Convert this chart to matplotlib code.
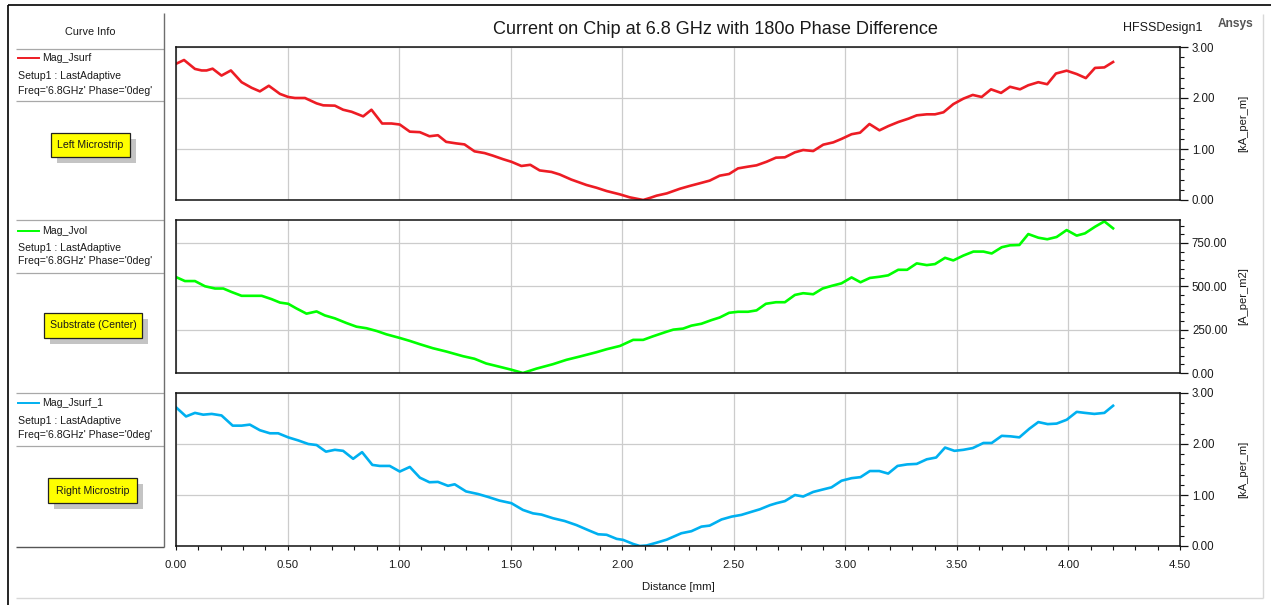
import matplotlib
matplotlib.use('Agg')
import matplotlib.pyplot as plt
from matplotlib.ticker import MultipleLocator, FormatStrFormatter
from matplotlib.patches import Rectangle

plt.rcParams['font.family'] = ['Liberation Sans', 'DejaVu Sans']

# ---------------- data ----------------
x_jsurf = [0, 0.036, 0.085, 0.115, 0.137, 0.164, 0.204, 0.246, 0.294, 0.339, 0.376, 0.416, 0.466,
           0.503, 0.533, 0.578, 0.63, 0.66, 0.712, 0.749, 0.787, 0.839, 0.876, 0.924, 0.966, 1.003,
           1.048, 1.093, 1.136, 1.174, 1.211, 1.256, 1.293, 1.338, 1.383, 1.42, 1.466, 1.503, 1.548,
           1.588, 1.63, 1.683, 1.72, 1.772, 1.84, 1.885, 1.93, 1.99, 2.034, 2.064, 2.094, 2.124, 2.154,
           2.2, 2.258, 2.302, 2.347, 2.392, 2.437, 2.479, 2.519, 2.564, 2.602, 2.647, 2.689, 2.729,
           2.774, 2.811, 2.856, 2.901, 2.946, 2.984, 3.028, 3.066, 3.108, 3.153, 3.193, 3.238, 3.283,
           3.32, 3.365, 3.402, 3.44, 3.484, 3.529, 3.571, 3.611, 3.653, 3.698, 3.738, 3.783, 3.82,
           3.865, 3.905, 3.944, 3.992, 4.037, 4.078, 4.119, 4.161, 4.2]
mag_jsurf = [2.67, 2.745, 2.57, 2.54, 2.54, 2.575, 2.44, 2.54, 2.31, 2.20, 2.13, 2.24, 2.08, 2.02, 2.0,
             2.0, 1.895, 1.856, 1.85, 1.77, 1.73, 1.64, 1.77, 1.50, 1.50, 1.48, 1.34, 1.33, 1.25, 1.27,
             1.14, 1.11, 1.09, 0.954, 0.92, 0.87, 0.80, 0.75, 0.667, 0.69, 0.58, 0.55, 0.50, 0.40,
             0.294, 0.24, 0.176, 0.11, 0.052, 0.026, 0.0, 0.04, 0.085, 0.13, 0.22, 0.275, 0.327, 0.38,
             0.477, 0.51, 0.62, 0.654, 0.68, 0.75, 0.83, 0.837, 0.935, 0.98, 0.96, 1.085, 1.13, 1.20,
             1.29, 1.32, 1.49, 1.366, 1.45, 1.53, 1.595, 1.66, 1.68, 1.68, 1.72, 1.88, 1.987, 2.06,
             2.02, 2.17, 2.10, 2.22, 2.17, 2.25, 2.31, 2.27, 2.48, 2.536, 2.47, 2.39, 2.59, 2.60, 2.706]

x_jvol = [0, 0.04, 0.085, 0.13, 0.175, 0.212, 0.249, 0.294, 0.339, 0.384, 0.428, 0.466, 0.503, 0.54,
          0.585, 0.63, 0.667, 0.712, 0.764, 0.809, 0.854, 0.9, 0.943, 1.003, 1.048, 1.093, 1.151,
          1.211, 1.286, 1.338, 1.39, 1.45, 1.503, 1.555, 1.615, 1.69, 1.75, 1.81, 1.885, 1.93, 1.99,
          2.049, 2.094, 2.139, 2.199, 2.229, 2.273, 2.31, 2.355, 2.4, 2.437, 2.479, 2.519, 2.564,
          2.602, 2.644, 2.689, 2.729, 2.774, 2.811, 2.856, 2.898, 2.938, 2.983, 3.028, 3.068, 3.11,
          3.154, 3.192, 3.237, 3.277, 3.32, 3.365, 3.402, 3.447, 3.484, 3.529, 3.574, 3.619, 3.656,
          3.701, 3.738, 3.78, 3.82, 3.865, 3.905, 3.947, 3.992, 4.037, 4.074, 4.119, 4.161, 4.2]
mag_jvol = [553, 530, 530, 500, 487, 487, 467, 445, 445, 445, 426, 406, 399, 372, 342, 355, 332, 315,
            288, 267, 258, 242, 223, 202, 185, 166, 143, 124, 97, 82, 55, 36, 19, 0, 25, 51, 76, 95,
            120, 137, 156, 191, 191, 212, 238, 250, 256, 273, 284, 305, 320, 347, 353, 353, 361, 399,
            408, 408, 450, 460, 454, 487, 502, 517, 551, 523, 548, 555, 563, 595, 595, 632, 622, 628,
            664, 649, 677, 700, 700, 689, 725, 736, 738, 801, 780, 771, 784, 824, 792, 805, 843, 874, 834]

x_jsurf1 = [0, 0.045, 0.085, 0.122, 0.16, 0.204, 0.254, 0.294, 0.331, 0.376, 0.421, 0.458, 0.503,
            0.548, 0.593, 0.63, 0.672, 0.712, 0.749, 0.794, 0.834, 0.88, 0.913, 0.958, 1.003, 1.048,
            1.093, 1.136, 1.174, 1.219, 1.249, 1.3, 1.353, 1.398, 1.45, 1.503, 1.555, 1.6, 1.638,
            1.69, 1.742, 1.795, 1.848, 1.892, 1.93, 1.975, 2.004, 2.049, 2.079, 2.109, 2.154, 2.199,
            2.265, 2.31, 2.355, 2.392, 2.445, 2.49, 2.534, 2.579, 2.617, 2.662, 2.692, 2.729, 2.774,
            2.811, 2.856, 2.901, 2.938, 2.983, 3.028, 3.068, 3.11, 3.152, 3.192, 3.234, 3.277, 3.32,
            3.365, 3.407, 3.447, 3.489, 3.529, 3.571, 3.619, 3.656, 3.701, 3.741, 3.78, 3.825, 3.865,
            3.907, 3.947, 3.992, 4.037, 4.074, 4.116, 4.161, 4.2]
mag_jsurf1 = [2.72, 2.54, 2.61, 2.575, 2.59, 2.56, 2.36, 2.36, 2.38, 2.27, 2.21, 2.21, 2.13, 2.07,
              2.00, 1.98, 1.85, 1.886, 1.866, 1.71, 1.84, 1.59, 1.57, 1.57, 1.46, 1.55, 1.34, 1.25,
              1.257, 1.18, 1.21, 1.07, 1.02, 0.963, 0.89, 0.84, 0.707, 0.64, 0.616, 0.544, 0.49, 0.41,
              0.31, 0.23, 0.22, 0.14, 0.12, 0.04, 0.0, 0.01, 0.065, 0.124, 0.25, 0.29, 0.38, 0.40,
              0.52, 0.576, 0.61, 0.67, 0.72, 0.80, 0.84, 0.88, 1.00, 0.97, 1.06, 1.11, 1.15, 1.28,
              1.33, 1.35, 1.47, 1.47, 1.42, 1.57, 1.60, 1.61, 1.70, 1.735, 1.93, 1.866, 1.886, 1.92,
              2.02, 2.02, 2.16, 2.15, 2.13, 2.30, 2.43, 2.39, 2.40, 2.475, 2.63, 2.61, 2.59, 2.61, 2.75]

trace_names = ['Mag_Jsurf', 'Mag_Jvol', 'Mag_Jsurf_1']
trace_notes = ['Left Microstrip', 'Substrate (Center)', 'Right Microstrip']
units = ['[kA_per_m]', '[A_per_m2]', '[kA_per_m]']
y_max = [3.0, 882, 3.0]
y_major = [1.0, 250, 1.0]
y_minor = [0.2, 50, 0.2]
colors = ['#ED1C24', '#00FF00', '#00B0F0']
title = 'Current on Chip at 6.8 GHz with 180o Phase Difference'
x_label = 'Distance [mm]'

series = [(x_jsurf, mag_jsurf), (x_jvol, mag_jvol), (x_jsurf1, mag_jsurf1)]

# ---------------- figure ----------------
W, H = 1271, 605
fig = plt.figure(figsize=(W / 100, H / 100), dpi=100)
fig.patch.set_facecolor('white')

bg = fig.add_axes([0, 0, 1, 1], zorder=0)
bg.set_xlim(0, W)
bg.set_ylim(H, 0)
bg.axis('off')


def px_rect(left, top, right, bottom):
    return [left / W, 1 - bottom / H, (right - left) / W, (bottom - top) / H]


panel_px = [(47, 200), (220, 373), (393, 546)]
left_info = [  # (sep_top, line_y, setup_y, freq_y, sep_bottom, box)
    (48.5, 58, 76, 91, 101, (51, 133, 130, 157)),
    (220, 231, 248, 261, 273, (44, 313, 142, 338)),
    (393, 403, 421, 435, 446, (48, 478, 137, 503)),
]

txt_col = '#1a1a1a'
for i, ((top, bot), (xs, ys)) in enumerate(zip(panel_px, series)):
    ax = fig.add_axes(px_rect(176, top, 1180, bot), zorder=2)
    ax.plot(xs, ys, color=colors[i], lw=1.9, solid_joinstyle='round')
    ax.set_xlim(0, 4.5)
    ax.set_ylim(0, y_max[i])
    ax.set_axisbelow(True)
    ax.xaxis.set_major_locator(MultipleLocator(0.5))
    ax.xaxis.set_minor_locator(MultipleLocator(0.1))
    ax.yaxis.set_major_locator(MultipleLocator(y_major[i]))
    ax.yaxis.set_minor_locator(MultipleLocator(y_minor[i]))
    ax.yaxis.set_major_formatter(FormatStrFormatter('%.2f'))
    ax.xaxis.set_major_formatter(FormatStrFormatter('%.2f'))
    ax.yaxis.tick_right()
    ax.grid(True, which='major', color='#cccccc', lw=0.9)
    for s in ax.spines.values():
        s.set_color('#111111')
        s.set_linewidth(1.1)
    ax.tick_params(axis='y', which='major', length=5.4, width=0.9, pad=3.2,
                   labelsize=8.3, colors='#111111', labelcolor=txt_col)
    ax.tick_params(axis='y', which='minor', length=2.9, width=0.8, colors='#111111')
    if i < 2:
        ax.tick_params(axis='x', which='both', bottom=False, labelbottom=False)
    else:
        ax.tick_params(axis='x', which='both', length=3.0, width=0.8, colors='#111111')
        ax.tick_params(axis='x', which='major', pad=7, labelsize=8.2, labelcolor=txt_col)
        ax.set_xlabel(x_label, fontsize=8.2, color=txt_col, labelpad=9)
    ax.text(1.0627, 0.5, units[i], transform=ax.transAxes, rotation=90,
            ha='center', va='center', fontsize=8, color=txt_col)

    # left info panel
    sep_t, ly, sy, fy, sep_b, box = left_info[i]
    bg.hlines([sep_t, sep_b], 16, 164, color='#a8a8a8', lw=0.9)
    bg.plot([18, 39], [ly, ly], color=colors[i], lw=1.4)
    bg.text(42, ly, trace_names[i], fontsize=7.6, va='center', ha='left', color=txt_col)
    bg.text(18, sy, 'Setup1 : LastAdaptive', fontsize=7.6, va='center', ha='left', color=txt_col)
    bg.text(18, fy, "Freq='6.8GHz' Phase='0deg'", fontsize=7.6, va='center', ha='left',
            color=txt_col)
    bx0, by0, bx1, by1 = box
    bg.add_patch(Rectangle((bx0 + 6, by0 + 6), bx1 - bx0, by1 - by0, facecolor='#c4c4c4',
                           edgecolor='none', zorder=1))
    bg.add_patch(Rectangle((bx0, by0), bx1 - bx0, by1 - by0, facecolor='#FFFF00',
                           edgecolor='#222222', lw=0.9, zorder=2))
    bg.text((bx0 + bx1) / 2, (by0 + by1) / 2, trace_notes[i], fontsize=7.6, ha='center',
            va='center', color=txt_col, zorder=3)

# frame / decorations
bg.hlines(5, 8, W, color='black', lw=1.2)
bg.vlines(8, 5, H, color='black', lw=1.2)
bg.vlines(1263, 14, 598, color='#d8d8d8', lw=1.0)
bg.hlines(598, 16, 1263, color='#d8d8d8', lw=1.0)
bg.vlines(164, 13, 547, color='#6e6e6e', lw=1.0)
bg.hlines(547, 16, 164, color='#555555', lw=1.0)
bg.text(90, 32, 'Curve Info', fontsize=7.8, ha='center', va='center', color=txt_col)

fig.text(715 / W, 1 - 29 / H, title, ha='center', va='center', fontsize=13.1, color=txt_col)
fig.text(1163 / W, 1 - 28 / H, 'HFSSDesign1', ha='center', va='center', fontsize=9,
         color=txt_col)
fig.text(1236 / W, 1 - 24 / H, 'Ansys', ha='center', va='center', fontsize=8.6,
         fontweight='bold', color='#555555')

fig.savefig('out.png', dpi=100, facecolor='white')
